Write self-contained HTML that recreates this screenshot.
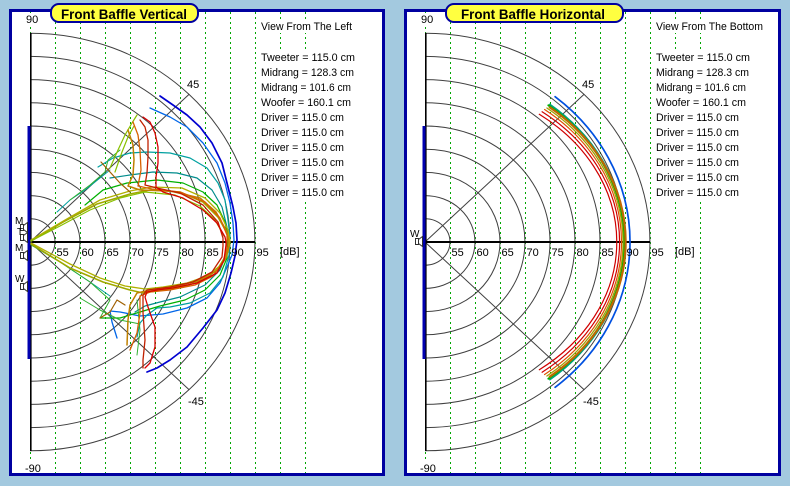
<!DOCTYPE html>
<html><head><meta charset="utf-8">
<style>
html,body{margin:0;padding:0;}
body{width:790px;height:486px;overflow:hidden;background:#a3c9df;}
svg{display:block;}
text{font-family:"Liberation Sans",Arial,sans-serif;fill:#000;}
</style></head>
<body>
<svg width="790" height="486" viewBox="0 0 790 486" xmlns="http://www.w3.org/2000/svg">
<defs>
<g id="grid">
  <!-- dotted vertical lines -->
  <g stroke="#00a800" stroke-width="1" stroke-dasharray="2 3">
    <line x1="30.5" y1="12" x2="30.5" y2="473"/>
    <line x1="55.5" y1="12" x2="55.5" y2="473"/>
    <line x1="80.5" y1="12" x2="80.5" y2="473"/>
    <line x1="105.5" y1="12" x2="105.5" y2="473"/>
    <line x1="130.5" y1="12" x2="130.5" y2="473"/>
    <line x1="155.5" y1="12" x2="155.5" y2="473"/>
    <line x1="180.5" y1="12" x2="180.5" y2="473"/>
    <line x1="205.5" y1="12" x2="205.5" y2="473"/>
    <line x1="230.5" y1="12" x2="230.5" y2="473"/>
    <line x1="255.5" y1="12" x2="255.5" y2="473"/>
    <line x1="280.5" y1="12" x2="280.5" y2="473"/>
    <line x1="305.5" y1="12" x2="305.5" y2="473"/>
  </g>
  <!-- rings -->
  <g fill="none" stroke="#404040" stroke-width="1">
    <path d="M30,218.8 A25,23.2 0 0 1 30,265.2"/>
    <path d="M30,195.6 A50,46.4 0 0 1 30,288.4"/>
    <path d="M30,172.4 A75,69.6 0 0 1 30,311.6"/>
    <path d="M30,149.2 A100,92.8 0 0 1 30,334.8"/>
    <path d="M30,126 A125,116 0 0 1 30,358"/>
    <path d="M30,102.8 A150,139.2 0 0 1 30,381.2"/>
    <path d="M30,79.6 A175,162.4 0 0 1 30,404.4"/>
    <path d="M30,56.4 A200,185.6 0 0 1 30,427.6"/>
    <path d="M30,33.2 A225,208.8 0 0 1 30,450.8"/>
    <line x1="30" y1="242" x2="189" y2="94.4"/>
    <line x1="30" y1="242" x2="189" y2="389.6"/>
  </g>
  <!-- axes -->
  <line x1="30.8" y1="33" x2="30.8" y2="451" stroke="#000" stroke-width="1.6"/>
  <line x1="30" y1="242" x2="255" y2="242" stroke="#000" stroke-width="2"/>
  <rect x="27.5" y="126" width="3" height="233" fill="#0000b0"/>
</g>
</defs>

<!-- Left panel -->
<rect x="10.5" y="10.5" width="373" height="464" fill="#fff" stroke="#0000a0" stroke-width="3"/>
<use href="#grid"/>

<!-- Right panel -->
<rect x="405.5" y="10.5" width="374" height="464" fill="#fff" stroke="#0000a0" stroke-width="3"/>
<use href="#grid" x="395"/>

<!-- LEFT curves -->
<g fill="none" stroke-linejoin="round" stroke-linecap="round">
  <path stroke="#0000d0" stroke-width="1.7" d="M160,96 L173,105 187,115 200,127 212,143 222,163 228,187 233,207 236,223 237,240 235,256 231,273 225,293 217,310 203,328 187,347 170,360 157,368 147,372"/>
  <path stroke="#0066e8" stroke-width="1.3" d="M150,108 L170,117 187,127 203,143 217,163 225,183 230,203 233,223 234,240 232,255 227,267 220,283 207,298 187,308 163,314 140,316 120,312 110,311 112,322 117,338"/>
  <path stroke="#00a0a0" stroke-width="1.2" d="M98,167 L113,158 130,153 147,152 170,153 190,158 207,168 218,183 225,200 228,220 230,237 229,255 223,277 210,293 190,303 170,307 157,308 147,315 140,323 137,337"/>
  <path stroke="#008c8c" stroke-width="1.2" d="M110,178 L130,175 153,172 177,173 197,178 212,190 222,207 227,227 228,240 226,255 220,270 205,285 180,297 160,302 145,306 135,312"/>
  <path stroke="#00a0a0" stroke-width="1" d="M57,212 L70,200 85,190 100,178 110,170 M60,262 L90,282 110,296"/>
  <path stroke="#00b000" stroke-width="1.2" d="M85,205 L103,190 127,183 157,180 183,183 203,192 217,205 225,222 228,238 227,258 220,275 205,290 185,300 160,306 140,312 120,318 100,318"/>
  <path stroke="#30b030" stroke-width="1" d="M70,200 L90,185 105,172 108,160 120,150 M80,298 L100,310 120,320 140,324 M137,300 L140,330 137,355 M31,245 L60,262 90,282 110,300 100,318"/>
  <path stroke="#a0a800" stroke-width="1.6" d="M31,241 L63,222 97,204 130,194 150,190 180,192 203,202 218,217 227,233 229,242 229,246 225,257 217,270 203,280 183,287 163,290 143,293 130,290 103,282 70,268 31,244"/>
  <path stroke="#b0b000" stroke-width="1.3" d="M31,240 L65,220 100,200 130,191 152,187 182,188 205,198 220,213 228,230 230,242 228,252 221,265 207,276 187,283 163,287 145,289 125,286 100,278 70,264 31,243"/>
  <path stroke="#88c000" stroke-width="1.2" d="M31,241 L60,226 90,210 120,198 145,192 175,195 200,206 215,220 224,236 M110,168 L118,150 125,135 132,123 137,115 M115,172 L122,152 128,137 134,126"/>
  <path stroke="#a06000" stroke-width="1.2" d="M101,162 L110,172 120,183 130,192 M100,318 L110,312 117,300 125,305"/>
  <path stroke="#c08000" stroke-width="1.5" d="M128,130 L133,145 134,160 133,175 128,186 140,190 170,191 200,198 216,212 226,230 229,242 229,246 226,258 218,270 200,280 175,287 150,290 137,293 130,305 128,320 127,345"/>
  <path stroke="#d86000" stroke-width="1.3" d="M133,122 L138,135 140,150 141,170 138,186 152,189 180,192 205,202 220,218 227,235 227,248 223,262 213,276 195,285 170,290 150,292 140,296 140,313 137,333 130,350"/>
  <path stroke="#c02000" stroke-width="1.3" d="M140,120 L145,127 148,140 148,157 147,173 145,185 157,188 180,193 203,205 218,222 223,238 223,246 222,257 212,272 193,282 170,287 147,290 143,295 143,313 145,340 143,360 143,368"/>
  <path stroke="#d80000" stroke-width="1.3" d="M143,117 L150,122 155,133 158,147 158,163 156,177 156,187 163,192 183,198 203,210 217,223 225,237 226,242 226,245 224,260 217,273 197,283 173,288 157,290 147,292 145,297 148,307 155,327 155,347 150,363 145,368"/>
</g>

<!-- RIGHT curves -->
<g fill="none" stroke-linecap="round">
  <path stroke="#0050e0" stroke-width="1.7" d="M555.1,96.7 A205,188 0 0 1 555.1,387.3"/>
  <path stroke="#00a080" stroke-width="1.5" d="M549.8,104.3 A200.5,176 0 0 1 549.8,379.7"/>
  <path stroke="#00b000" stroke-width="2" d="M548.4,105.3 A199.5,174 0 0 1 548.4,378.7"/>
  <path stroke="#a0a000" stroke-width="1.3" d="M546.9,108 A198,170 0 0 1 546.9,376"/>
  <path stroke="#c06800" stroke-width="2.2" d="M549.8,107.4 A201,172 0 0 1 549.8,376.6"/>
  <path stroke="#e05000" stroke-width="1.2" d="M544.6,109.5 A196.5,167 0 0 1 544.6,374.5"/>
  <path stroke="#d00000" stroke-width="1.2" d="M542.1,111.8 A194.5,163 0 0 1 542.1,372.2"/>
  <path stroke="#d00000" stroke-width="1.2" d="M539.3,114.3 A191.7,159 0 0 1 539.3,369.7"/>
</g>

<!-- Driver markers left -->
<g stroke="#303030" stroke-width="1" fill="#fff">
  <rect x="20.5" y="224.5" width="3" height="6"/><path d="M23.5,225.5 L27.5,222.5 L27.5,232.5 L23.5,229.5 Z"/>
  <rect x="20.5" y="234.5" width="3" height="6"/><path d="M23.5,235.5 L27.5,232.5 L27.5,242.5 L23.5,239.5 Z"/>
  <rect x="20.5" y="252.5" width="3" height="6"/><path d="M23.5,253.5 L27.5,250.5 L27.5,260.5 L23.5,257.5 Z"/>
  <rect x="20.5" y="283.5" width="3" height="6"/><path d="M23.5,284.5 L27.5,281.5 L27.5,291.5 L23.5,288.5 Z"/>
  <rect x="415.5" y="238.5" width="3" height="6"/><path d="M418.5,239.5 L422.5,236.5 L422.5,246.5 L418.5,243.5 Z"/>
</g>
<g font-size="10">
  <text x="15" y="224">M</text>
  <text x="17" y="235">T</text>
  <text x="15" y="251">M</text>
  <text x="15" y="282">W</text>
  <text x="410" y="237">W</text>
</g>

<!-- Titles -->
<rect x="51" y="4" width="147" height="18" rx="8" ry="8" fill="#ffff40" stroke="#0000a0" stroke-width="2"/>
<text x="61" y="19" font-size="14" font-weight="bold" textLength="126" lengthAdjust="spacingAndGlyphs">Front Baffle Vertical</text>
<rect x="446" y="4" width="177" height="18" rx="8" ry="8" fill="#ffff40" stroke="#0000a0" stroke-width="2"/>
<text x="461" y="19" font-size="14" font-weight="bold" textLength="144" lengthAdjust="spacingAndGlyphs">Front Baffle Horizontal</text>

<!-- Axis labels left -->
<g font-size="11">
  <rect x="25" y="13" width="13" height="11" fill="#fff"/>
  <text x="26" y="23">90</text>
  <rect x="24" y="462" width="17" height="11" fill="#fff"/>
  <text x="25" y="472">-90</text>
  <text x="187" y="88">45</text>
  <text x="188" y="405">-45</text>
  <text x="56.5" y="256">55</text>
  <text x="81.5" y="256">60</text>
  <text x="106.5" y="256">65</text>
  <text x="131.5" y="256">70</text>
  <text x="156.5" y="256">75</text>
  <text x="181.5" y="256">80</text>
  <text x="206.5" y="256">85</text>
  <text x="231.5" y="256">90</text>
  <text x="256.5" y="256">95</text>
  <text x="280" y="255">[dB]</text>
</g>
<!-- Axis labels right -->
<g font-size="11">
  <rect x="420" y="13" width="13" height="11" fill="#fff"/>
  <text x="421" y="23">90</text>
  <rect x="419" y="462" width="17" height="11" fill="#fff"/>
  <text x="420" y="472">-90</text>
  <text x="582" y="88">45</text>
  <text x="583" y="405">-45</text>
  <text x="451.5" y="256">55</text>
  <text x="476.5" y="256">60</text>
  <text x="501.5" y="256">65</text>
  <text x="526.5" y="256">70</text>
  <text x="551.5" y="256">75</text>
  <text x="576.5" y="256">80</text>
  <text x="601.5" y="256">85</text>
  <text x="626.5" y="256">90</text>
  <text x="651.5" y="256">95</text>
  <text x="675" y="255">[dB]</text>
</g>

<!-- Info text left -->
<g fill="#fff">
  <rect x="259" y="20" width="96" height="13"/>
  <rect x="259" y="51" width="98" height="13"/>
  <rect x="259" y="66" width="98" height="13"/>
  <rect x="259" y="81" width="95" height="13"/>
  <rect x="259" y="96" width="95" height="13"/>
  <rect x="259" y="111" width="88" height="13"/>
  <rect x="259" y="126" width="88" height="13"/>
  <rect x="259" y="141" width="88" height="13"/>
  <rect x="259" y="156" width="88" height="13"/>
  <rect x="259" y="171" width="88" height="13"/>
  <rect x="259" y="186" width="88" height="13"/>
</g>
<g font-size="11">
  <text x="261" y="30" textLength="91" lengthAdjust="spacingAndGlyphs">View From The Left</text>
  <text x="261" y="61" textLength="94" lengthAdjust="spacingAndGlyphs">Tweeter = 115.0 cm</text>
  <text x="261" y="76" textLength="93" lengthAdjust="spacingAndGlyphs">Midrang = 128.3 cm</text>
  <text x="261" y="91" textLength="90" lengthAdjust="spacingAndGlyphs">Midrang = 101.6 cm</text>
  <text x="261" y="106" textLength="90" lengthAdjust="spacingAndGlyphs">Woofer = 160.1 cm</text>
  <text x="261" y="121" textLength="83" lengthAdjust="spacingAndGlyphs">Driver = 115.0 cm</text>
  <text x="261" y="136" textLength="83" lengthAdjust="spacingAndGlyphs">Driver = 115.0 cm</text>
  <text x="261" y="151" textLength="83" lengthAdjust="spacingAndGlyphs">Driver = 115.0 cm</text>
  <text x="261" y="166" textLength="83" lengthAdjust="spacingAndGlyphs">Driver = 115.0 cm</text>
  <text x="261" y="181" textLength="83" lengthAdjust="spacingAndGlyphs">Driver = 115.0 cm</text>
  <text x="261" y="196" textLength="83" lengthAdjust="spacingAndGlyphs">Driver = 115.0 cm</text>
</g>

<!-- Info text right -->
<g fill="#fff">
  <rect x="654" y="20" width="111" height="13"/>
  <rect x="654" y="51" width="98" height="13"/>
  <rect x="654" y="66" width="98" height="13"/>
  <rect x="654" y="81" width="95" height="13"/>
  <rect x="654" y="96" width="95" height="13"/>
  <rect x="654" y="111" width="88" height="13"/>
  <rect x="654" y="126" width="88" height="13"/>
  <rect x="654" y="141" width="88" height="13"/>
  <rect x="654" y="156" width="88" height="13"/>
  <rect x="654" y="171" width="88" height="13"/>
  <rect x="654" y="186" width="88" height="13"/>
</g>
<g font-size="11">
  <text x="656" y="30" textLength="107" lengthAdjust="spacingAndGlyphs">View From The Bottom</text>
  <text x="656" y="61" textLength="94" lengthAdjust="spacingAndGlyphs">Tweeter = 115.0 cm</text>
  <text x="656" y="76" textLength="93" lengthAdjust="spacingAndGlyphs">Midrang = 128.3 cm</text>
  <text x="656" y="91" textLength="90" lengthAdjust="spacingAndGlyphs">Midrang = 101.6 cm</text>
  <text x="656" y="106" textLength="90" lengthAdjust="spacingAndGlyphs">Woofer = 160.1 cm</text>
  <text x="656" y="121" textLength="83" lengthAdjust="spacingAndGlyphs">Driver = 115.0 cm</text>
  <text x="656" y="136" textLength="83" lengthAdjust="spacingAndGlyphs">Driver = 115.0 cm</text>
  <text x="656" y="151" textLength="83" lengthAdjust="spacingAndGlyphs">Driver = 115.0 cm</text>
  <text x="656" y="166" textLength="83" lengthAdjust="spacingAndGlyphs">Driver = 115.0 cm</text>
  <text x="656" y="181" textLength="83" lengthAdjust="spacingAndGlyphs">Driver = 115.0 cm</text>
  <text x="656" y="196" textLength="83" lengthAdjust="spacingAndGlyphs">Driver = 115.0 cm</text>
</g>
</svg>
</body></html>
